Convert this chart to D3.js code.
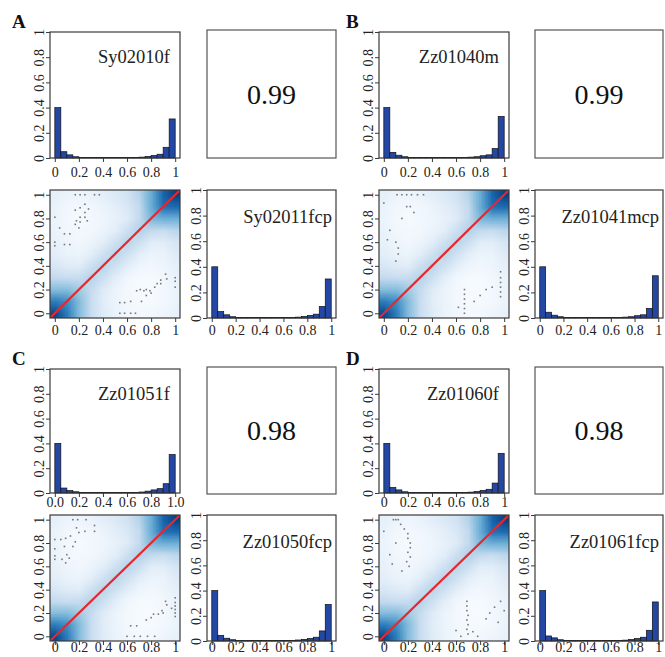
<!DOCTYPE html>
<html>
<head>
<meta charset="utf-8">
<script src="https://cdn.jsdelivr.net/npm/d3@7"></script>
<style>
  body { margin: 0; background: #fff; }
  svg { display: block; }
  svg text { font-family: "Liberation Serif", "Times New Roman", serif; }
</style>
</head>
<body>
<div id="chart"></div>
<script>
// ---- data ----
var panelLetters = ["A", "B", "C", "D"];
var topNames = ["Sy02010f", "Zz01040m", "Zz01051f", "Zz01060f"];
var bottomNames = ["Sy02011fcp", "Zz01041mcp", "Zz01050fcp", "Zz01061fcp"];
var corrValues = ["0.99", "0.99", "0.98", "0.98"];

var binStarts = [0, 0.05, 0.1, 0.15, 0.2, 0.25, 0.3, 0.35, 0.4, 0.45,
                 0.5, 0.55, 0.6, 0.65, 0.7, 0.75, 0.8, 0.85, 0.9, 0.95];
var binWidth = 0.05;

// top-left histogram of each panel
var histTop = [
  [0.40, 0.05, 0.025, 0.01, 0.005, 0.004, 0.003, 0.003, 0.003, 0.003, 0.003, 0.004, 0.004, 0.005, 0.007, 0.012, 0.02, 0.03, 0.085, 0.31],
  [0.40, 0.045, 0.022, 0.01, 0.005, 0.004, 0.003, 0.003, 0.003, 0.003, 0.003, 0.004, 0.004, 0.005, 0.007, 0.01, 0.018, 0.025, 0.075, 0.33],
  [0.40, 0.04, 0.02, 0.01, 0.005, 0.004, 0.003, 0.003, 0.003, 0.003, 0.003, 0.004, 0.004, 0.005, 0.008, 0.015, 0.025, 0.035, 0.075, 0.31],
  [0.40, 0.045, 0.025, 0.01, 0.005, 0.004, 0.003, 0.003, 0.003, 0.003, 0.003, 0.004, 0.004, 0.005, 0.007, 0.012, 0.02, 0.03, 0.08, 0.32]
];
// bottom-right histogram of each panel
var histBottom = [
  [0.40, 0.05, 0.025, 0.01, 0.005, 0.004, 0.003, 0.003, 0.003, 0.003, 0.003, 0.004, 0.004, 0.005, 0.007, 0.012, 0.02, 0.03, 0.09, 0.305],
  [0.40, 0.045, 0.022, 0.01, 0.005, 0.004, 0.003, 0.003, 0.003, 0.003, 0.003, 0.004, 0.004, 0.005, 0.007, 0.01, 0.018, 0.025, 0.075, 0.33],
  [0.40, 0.045, 0.022, 0.01, 0.005, 0.004, 0.003, 0.003, 0.003, 0.003, 0.003, 0.004, 0.004, 0.005, 0.008, 0.013, 0.02, 0.03, 0.08, 0.29],
  [0.40, 0.04, 0.025, 0.01, 0.005, 0.004, 0.003, 0.003, 0.003, 0.003, 0.003, 0.004, 0.004, 0.005, 0.007, 0.012, 0.02, 0.03, 0.085, 0.31]
];

var xTicks = [0, 0.2, 0.4, 0.6, 0.8, 1];
var xTickLabels = ["0", "0.2", "0.4", "0.6", "0.8", "1"];
var xTickLabelsC = ["0.0", "0.2", "0.4", "0.6", "0.8", "1.0"];
var yTicks = [0, 0.2, 0.4, 0.6, 0.8, 1];
var yTickLabels = ["0", "0.2", "0.4", "0.6", "0.8", "1"];

// smoothed density levels (0 = white, 1 = darkest blue), rows y = 0 .. 1, columns x = 0 .. 1 step 0.1
var densityLevels = [
  [0.92, 0.74, 0.50, 0.32, 0.22, 0.17, 0.14, 0.13, 0.13, 0.15, 0.18],
  [0.74, 0.68, 0.50, 0.32, 0.21, 0.16, 0.13, 0.12, 0.12, 0.13, 0.16],
  [0.50, 0.50, 0.44, 0.33, 0.22, 0.16, 0.13, 0.11, 0.11, 0.13, 0.16],
  [0.34, 0.32, 0.33, 0.38, 0.30, 0.20, 0.14, 0.12, 0.12, 0.14, 0.17],
  [0.25, 0.22, 0.21, 0.30, 0.37, 0.29, 0.20, 0.15, 0.14, 0.15, 0.19],
  [0.20, 0.17, 0.16, 0.20, 0.29, 0.37, 0.29, 0.20, 0.16, 0.17, 0.22],
  [0.18, 0.15, 0.14, 0.16, 0.20, 0.29, 0.37, 0.30, 0.21, 0.21, 0.26],
  [0.17, 0.14, 0.13, 0.14, 0.16, 0.20, 0.30, 0.39, 0.34, 0.32, 0.36],
  [0.16, 0.13, 0.12, 0.13, 0.15, 0.18, 0.22, 0.34, 0.52, 0.55, 0.55],
  [0.17, 0.14, 0.13, 0.14, 0.16, 0.20, 0.24, 0.34, 0.56, 0.78, 0.80],
  [0.19, 0.16, 0.15, 0.17, 0.20, 0.23, 0.28, 0.38, 0.56, 0.82, 0.94]
];
var densityGridX = [0, 0.1, 0.2, 0.3, 0.4, 0.5, 0.6, 0.7, 0.8, 0.9, 1];

// outlying points drawn on top of the density
var dotsA = [[0.17,1],[0.21,1],[0.25,1],[0.33,1],[0.37,1],[0,0.81],[0,0.6],[0,0.57],[0.04,0.72],[0.08,0.67],[0.125,0.67],
  [0.08,0.58],[0.125,0.58],[0.17,0.87],[0.21,0.89],[0.25,0.92],[0.21,0.81],[0.18,0.78],[0.17,0.75],[0.21,0.77],[0.25,0.85],
  [0.25,0.81],[0.28,0.88],[0.27,0.78],[0.2,0.72],
  [0.54,0.09],[0.58,0.09],[0.63,0.1],[0.54,0],[0.58,0],[0.63,0],[0.67,0],[0.68,0.19],[0.71,0.2],[0.74,0.19],[0.76,0.2],
  [0.79,0.19],[0.83,0.22],[0.88,0.25],[0.92,0.33],[0.88,0.28],[0.85,0.25],[1,0.27],[1,0.22],[1,0.3],[0.93,0.29],
  [0.72,0.1],[0.76,0.15],[0.8,0.17]];
var dotsB = [[0.11,1],[0.15,1],[0.19,1],[0.23,1],[0.28,1],[0.33,1],[0,0.93],[0.19,0.9],[0.22,0.9],[0.1,0.6],[0.12,0.55],
  [0.12,0.5],[0.1,0.44],[0.03,0.62],[0.05,0.7],[0.15,0.8],[0.25,0.85],
  [0.67,0.2],[0.67,0.16],[0.67,0.12],[0.67,0.08],[0.67,0.04],[0.67,0],[0.62,0.05],[0.75,0.1],[0.8,0.15],[0.85,0.2],
  [0.97,0.35],[0.97,0.3],[0.97,0.26],[0.97,0.22],[0.97,0.18],[0.97,0.14],[0.9,0.22]];
var dotsC = [[0.15,1],[0.19,1],[0.26,1],[0.33,0.95],[0.33,0.9],[0.18,0.93],[0.2,0.89],[0.25,0.9],[0,0.83],[0.05,0.83],
  [0.09,0.84],[0.13,0.86],[0,0.75],[0,0.69],[0,0.66],[0.08,0.77],[0.1,0.7],[0.12,0.67],[0.15,0.77],[0.06,0.66],[0.09,0.63],[0.17,0.81],
  [0.6,0],[0.66,0],[0.71,0],[0.77,0],[0.83,0],[0.63,0.09],[0.68,0.09],[0.76,0.14],[0.8,0.16],[0.82,0.19],[0.86,0.19],
  [0.89,0.22],[0.92,0.3],[0.93,0.27],[1,0.17],[1,0.2],[1,0.23],[1,0.26],[1,0.29],[1,0.33],[0.97,0.24],[0.9,0.2]];
var dotsD = [[0.08,1],[0.1,1],[0.12,1],[0.14,0.96],[0.17,0.92],[0.2,0.88],[0.2,0.84],[0.22,0.8],[0.22,0.76],[0.2,0.72],
  [0.22,0.68],[0.19,0.64],[0.21,0.6],[0.15,0.56],[0.05,0.7],[0.07,0.62],[0.1,0.8],[0,0.9],
  [0.69,0.3],[0.69,0.26],[0.69,0.22],[0.7,0.18],[0.69,0.14],[0.7,0.1],[0.69,0.06],[0.7,0.02],[0.74,0.04],[0.78,0],
  [0.85,0.15],[0.88,0.2],[0.92,0.25],[0.97,0.3],[1,0.22],[0.95,0.12],[0.6,0.05],[0.64,0]];
var panelDots = [dotsA, dotsB, dotsC, dotsD];

// ---- layout ----
var barColor = "#2447a4";
var frameColor = "#3a3a3a";
var blues = ["#FFFFFF", "#F7FBFF", "#DEEBF7", "#C6DBEF", "#9ECAE1", "#6BAED6", "#4292C6", "#2171B5", "#08519C", "#08306B"];
var ramp = d3.piecewise(d3.interpolateRgb, blues);

var rows = [
  { h1: [32, 158], corr: [30, 158], low: [190, 318], h1Lab: 177, lowLab: 335, letter: 28 },
  { h1: [369, 493], corr: [367, 494], low: [515, 641], h1Lab: 507, lowLab: 652, letter: 365 }
];
var cols = [
  { left: [50, 180], right: [207, 336], letter: 12 },
  { left: [379, 509], right: [535, 663], letter: 346 }
];

var svg = d3.select("#chart").append("svg")
  .attr("width", 665)
  .attr("height", 657);

// density image built once, reused in every scatter panel
var canvas = document.createElement("canvas");
canvas.width = densityGridX.length;
canvas.height = densityLevels.length;
var ctx = canvas.getContext("2d");
densityLevels.forEach(function (row, j) {
  row.forEach(function (v, i) {
    ctx.fillStyle = ramp(v);
    ctx.fillRect(i, densityLevels.length - 1 - j, 1, 1);
  });
});
var densityUrl = canvas.toDataURL();

function axisBottom(g, xs, yPos, labels, baseline) {
  var pad = baseline - yPos - 10 - 4;
  g.append("g")
    .attr("transform", "translate(0," + yPos + ")")
    .call(d3.axisBottom(xs).tickValues(xTicks).tickFormat(function (d, i) { return labels[i]; })
      .tickSize(4).tickSizeOuter(0).tickPadding(pad))
    .call(function (a) {
      a.attr("font-family", null).attr("font-size", 14);
      a.select(".domain").remove();
      a.selectAll(".tick line").attr("stroke", frameColor);
      a.selectAll(".tick text").attr("fill", "#222");
    });
}

function axisLeft(g, ys, xPos) {
  g.append("g")
    .attr("transform", "translate(" + xPos + ",0)")
    .call(d3.axisLeft(ys).tickValues(yTicks).tickFormat(function (d, i) { return yTickLabels[i]; })
      .tickSize(4).tickSizeOuter(0))
    .call(function (a) {
      a.attr("font-family", null).attr("font-size", 14);
      a.select(".domain").remove();
      a.selectAll(".tick line").attr("stroke", frameColor);
      a.selectAll(".tick text")
        .attr("fill", "#222")
        .attr("transform", "rotate(-90)")
        .attr("x", 0)
        .attr("y", -6)
        .attr("dy", null)
        .attr("text-anchor", "middle");
    });
}

function drawHist(g, xr, yr, values, name, labels, labBase, nameDx, nameDy) {
  var xs = d3.scaleLinear().domain([-0.04, 1.04]).range(xr);
  var ys = d3.scaleLinear().domain([0, 1]).range([yr[1], yr[0]]);

  g.append("g").selectAll("rect")
    .data(values)
    .enter().append("rect")
    .attr("x", function (d, i) { return xs(binStarts[i]); })
    .attr("width", function (d, i) { return xs(binStarts[i] + binWidth) - xs(binStarts[i]); })
    .attr("y", function (d) { return ys(d); })
    .attr("height", function (d) { return ys(0) - ys(d); })
    .attr("fill", barColor)
    .attr("stroke", "#111")
    .attr("stroke-width", 0.7);

  g.append("rect")
    .attr("x", xr[0]).attr("y", yr[0])
    .attr("width", xr[1] - xr[0]).attr("height", yr[1] - yr[0])
    .attr("fill", "none").attr("stroke", frameColor).attr("stroke-width", 1.2);

  axisBottom(g, xs, yr[1], labels, labBase);
  axisLeft(g, ys, xr[0]);

  g.append("text")
    .attr("x", xr[1] - nameDx)
    .attr("y", yr[0] + nameDy)
    .attr("text-anchor", "end")
    .attr("font-size", 18.5)
    .attr("fill", "#222")
    .text(name);
}

function drawScatter(g, xr, yr, dots, labBase, id) {
  var xs = d3.scaleLinear().domain([-0.04, 1.04]).range(xr);
  var ys = d3.scaleLinear().domain([-0.04, 1.04]).range([yr[1], yr[0]]);

  g.append("clipPath").attr("id", "clip" + id)
    .append("rect")
    .attr("x", xr[0]).attr("y", yr[0])
    .attr("width", xr[1] - xr[0]).attr("height", yr[1] - yr[0]);

  var inner = g.append("g").attr("clip-path", "url(#clip" + id + ")");

  // grid cell centres sit on densityGridX, so the picture spans half a cell beyond each end
  var half = (densityGridX[1] - densityGridX[0]) / 2;
  var gx0 = densityGridX[0] - half, gx1 = densityGridX[densityGridX.length - 1] + half;
  inner.append("image")
    .attr("href", densityUrl)
    .attr("x", xs(gx0))
    .attr("y", ys(gx1))
    .attr("width", xs(gx1) - xs(gx0))
    .attr("height", ys(gx0) - ys(gx1))
    .attr("preserveAspectRatio", "none");

  inner.append("g").selectAll("rect")
    .data(dots)
    .enter().append("rect")
    .attr("x", function (d) { return xs(d[0]) - 0.8; })
    .attr("y", function (d) { return ys(d[1]) - 0.8; })
    .attr("width", 1.6).attr("height", 1.6)
    .attr("fill", "#777");

  inner.append("line")
    .attr("x1", xs(-0.04)).attr("y1", ys(-0.04))
    .attr("x2", xs(1.04)).attr("y2", ys(1.04))
    .attr("stroke", "#e8262b").attr("stroke-width", 2.2);

  g.append("rect")
    .attr("x", xr[0]).attr("y", yr[0])
    .attr("width", xr[1] - xr[0]).attr("height", yr[1] - yr[0])
    .attr("fill", "none").attr("stroke", frameColor).attr("stroke-width", 1.2);

  axisBottom(g, xs, yr[1], xTickLabels, labBase);
  axisLeft(g, ys, xr[0]);
}

function drawCorr(g, xr, yr, value) {
  g.append("rect")
    .attr("x", xr[0]).attr("y", yr[0])
    .attr("width", xr[1] - xr[0]).attr("height", yr[1] - yr[0])
    .attr("fill", "none").attr("stroke", "#555").attr("stroke-width", 1.2);
  g.append("text")
    .attr("x", (xr[0] + xr[1]) / 2)
    .attr("y", (yr[0] + yr[1]) / 2 + 9.5)
    .attr("text-anchor", "middle")
    .attr("font-size", 28)
    .attr("fill", "#111")
    .text(value);
}

panelLetters.forEach(function (letter, p) {
  var r = rows[Math.floor(p / 2)];
  var c = cols[p % 2];
  var g = svg.append("g");

  g.append("text")
    .attr("x", c.letter)
    .attr("y", r.letter)
    .attr("font-size", 19)
    .attr("font-weight", "bold")
    .attr("fill", "#111")
    .text(letter);

  drawHist(g, c.left, r.h1, histTop[p], topNames[p], p === 2 ? xTickLabelsC : xTickLabels, r.h1Lab, 10, 31);
  drawCorr(g, c.right, r.corr, corrValues[p]);
  drawScatter(g, c.left, r.low, panelDots[p], r.lowLab, p);
  drawHist(g, c.right, r.low, histBottom[p], bottomNames[p], xTickLabels, r.lowLab, 4, 33);
});
</script>
</body>
</html>
